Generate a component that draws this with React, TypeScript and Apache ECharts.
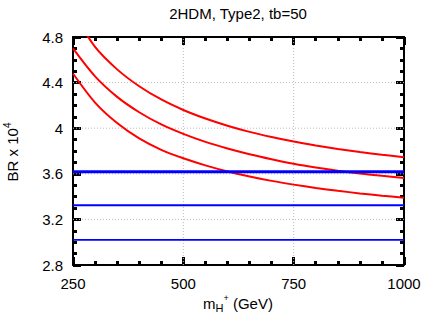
import React, { useEffect, useRef } from "react";
import * as echarts from "echarts";

const massPoints = [250, 300, 350, 400, 450, 500, 550, 600, 650, 700, 750, 800, 850, 900, 950, 1000];
const upperCurve = [5.02, 4.713, 4.516, 4.368, 4.252, 4.16, 4.085, 4.022, 3.968, 3.923, 3.883, 3.849, 3.818, 3.791, 3.767, 3.745];
const middleCurve = [4.7, 4.455, 4.275, 4.14, 4.033, 3.95, 3.88, 3.822, 3.772, 3.728, 3.688, 3.655, 3.627, 3.603, 3.582, 3.563];
const lowerCurve = [4.48, 4.225, 4.045, 3.91, 3.81, 3.736, 3.674, 3.621, 3.577, 3.538, 3.505, 3.476, 3.451, 3.428, 3.408, 3.39];
const limitLevels = [3.618, 3.324, 3.02];
const limitRange = [250, 1000];
const xTicks = [250, 500, 750, 1000];
const yTicks = [2.8, 3.2, 3.6, 4.0, 4.4, 4.8];

const FONT = "'Liberation Sans', Arial, Helvetica, sans-serif";

export default function App() {
  const ref = useRef<HTMLDivElement>(null);
  useEffect(() => {
    if (!ref.current) return;
    const chart = echarts.init(ref.current, undefined, { renderer: "svg" });
    const xMin = xTicks[0];
    const xMax = xTicks[xTicks.length - 1];
    const yMin = yTicks[0];
    const yMax = yTicks[yTicks.length - 1];
    const pair = (ys: number[]) => massPoints.map((m, i) => [m, ys[i]]);

    const gridStyle = { color: "#bbbbbb", width: 1, type: [1, 2] };
    const vGrid = xTicks.slice(1, -1).map((x, i) => ({
      type: "line",
      name: "vgrid" + i,
      data: [[x, yMin], [x, yMax]],
      showSymbol: false,
      silent: true,
      lineStyle: gridStyle,
      z: 1,
    }));
    const hGrid = yTicks.slice(1, -1).map((y, i) => ({
      type: "line",
      name: "hgrid" + i,
      data: [[xMin, y], [xMax, y]],
      showSymbol: false,
      silent: true,
      lineStyle: gridStyle,
      z: 1,
    }));
    const redSeries = [upperCurve, middleCurve, lowerCurve].map((ys, i) => ({
      type: "line",
      name: "br" + i,
      data: pair(ys),
      smooth: 0.3,
      showSymbol: false,
      clip: true,
      lineStyle: { color: "#ff0000", width: 2 },
      z: 3,
    }));
    const blueSeries = limitLevels.map((v, i) => ({
      type: "line",
      name: "lim" + i,
      data: limitRange.map((m) => [m, v]),
      showSymbol: false,
      clip: true,
      lineStyle: { color: "#0000ff", width: i === 0 ? 3 : 1.8 },
      z: 4,
    }));

    const axisCommon = {
      type: "value",
      axisLine: { show: true, lineStyle: { color: "#000", width: 2 } },
      axisTick: { show: true, inside: true, length: 8, lineStyle: { color: "#000", width: 3 } },
      splitLine: { show: false },
    };
    const xMinorTick = { show: true, splitNumber: 5, length: 4, lineStyle: { color: "#000", width: 3 } };
    const yMinorTick = { show: true, splitNumber: 4, length: 4, lineStyle: { color: "#000", width: 3 } };
    const option = {
      animation: false,
      grid: { left: 73, right: 22, top: 37, bottom: 59 },
      xAxis: [
        {
          ...axisCommon,
          position: "bottom",
          min: xMin,
          max: xMax,
          interval: 250,
          minorTick: xMinorTick,
          axisLabel: {
            color: "#000",
            fontSize: 15,
            fontFamily: FONT,
            margin: 11,
            formatter: (v: number) => String(v),
          },
        },
        {
          ...axisCommon,
          position: "top",
          min: xMin,
          max: xMax,
          interval: 250,
          minorTick: xMinorTick,
          axisLabel: { show: false },
        },
      ],
      yAxis: [
        {
          ...axisCommon,
          position: "left",
          min: yMin,
          max: yMax,
          interval: 0.4,
          minorTick: yMinorTick,
          axisLabel: {
            color: "#000",
            fontSize: 15,
            fontFamily: FONT,
            margin: 10,
            formatter: (v: number) => String(+v.toFixed(1)),
          },
        },
        {
          ...axisCommon,
          position: "right",
          min: yMin,
          max: yMax,
          interval: 0.4,
          minorTick: yMinorTick,
          axisLabel: { show: false },
        },
      ],
      series: [...vGrid, ...hGrid, ...redSeries, ...blueSeries],
      graphic: [
        {
          type: "text",
          x: 238,
          y: 13,
          style: {
            text: "2HDM, Type2, tb=50",
            fill: "#000",
            font: `15px ${FONT}`,
            textAlign: "center",
            textVerticalAlign: "middle",
          },
        },
        {
          type: "text",
          x: 12,
          y: 152,
          rotation: Math.PI / 2,
          style: {
            text: "BR x 10{sup|4}",
            fill: "#000",
            fontSize: 15,
            fontFamily: FONT,
            lineHeight: 20,
            textAlign: "center",
            textVerticalAlign: "middle",
            rich: {
              sup: { fontSize: 10, fontFamily: FONT, lineHeight: 10, verticalAlign: "top", fill: "#000" },
            },
          },
        },
        {
          type: "text",
          x: 238,
          y: 303,
          style: {
            text: "m{sub|H}{sup|+} (GeV)",
            fill: "#000",
            fontSize: 15,
            fontFamily: FONT,
            lineHeight: 20,
            textAlign: "center",
            textVerticalAlign: "middle",
            rich: {
              sub: { fontSize: 11, fontFamily: FONT, lineHeight: 10, verticalAlign: "bottom", fill: "#000" },
              sup: { fontSize: 9, fontFamily: FONT, lineHeight: 14, verticalAlign: "top", fill: "#000" },
            },
          },
        },
      ],
    };
    chart.setOption(option as any);
    return () => chart.dispose();
  }, []);
  return (
    <div
      ref={ref}
      style={{ position: "fixed", left: 0, top: 0, width: 426, height: 324, background: "#fff" }}
    />
  );
}
